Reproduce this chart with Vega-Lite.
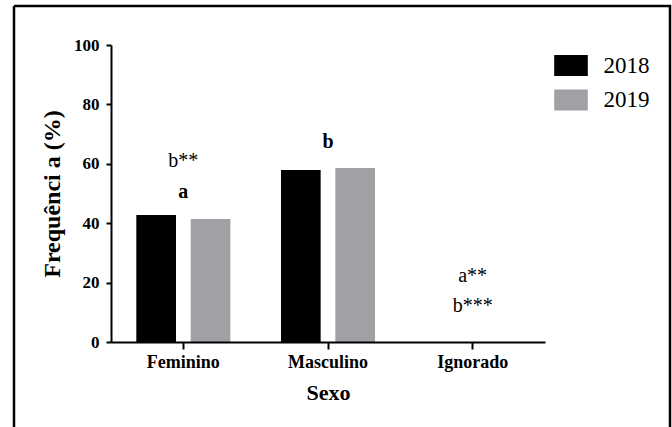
{
  "$schema": "https://vega.github.io/schema/vega-lite/v6.json",
  "width": 656,
  "height": 421,
  "autosize": {"type": "none"},
  "padding": {"left": 14, "top": 6, "right": 2, "bottom": 0},
  "config": {
    "font": "Liberation Serif",
    "text": {"font": "Liberation Serif"},
    "legend": {"labelFont": "Liberation Serif"},
    "view": {"stroke": "black", "strokeWidth": 2.5, "strokeDash": [1077, 656, 421, 0]},
    "axis": {
      "grid": false,
      "domainColor": "black",
      "domainWidth": 2,
      "tickColor": "black",
      "tickWidth": 2,
      "labelColor": "black",
      "titleColor": "black",
      "labelFont": "Liberation Serif",
      "titleFont": "Liberation Serif"
    }
  },
  "datasets": {
    "bars": [
      {"Sexo": "Feminino", "Ano": "2018", "Frequencia": 42.8},
      {"Sexo": "Feminino", "Ano": "2019", "Frequencia": 41.4},
      {"Sexo": "Masculino", "Ano": "2018", "Frequencia": 57.9},
      {"Sexo": "Masculino", "Ano": "2019", "Frequencia": 58.6},
      {"Sexo": "Ignorado", "Ano": "2018", "Frequencia": 0},
      {"Sexo": "Ignorado", "Ano": "2019", "Frequencia": 0}
    ],
    "letras": [
      {"Sexo": "Feminino", "valor": 48.5, "texto": "a"},
      {"Sexo": "Masculino", "valor": 65.3, "texto": "b"}
    ],
    "sig": [
      {"Sexo": "Feminino", "valor": 58.9, "texto": "b**"},
      {"Sexo": "Ignorado", "valor": 20.2, "texto": "a**"},
      {"Sexo": "Ignorado", "valor": 10.1, "texto": "b***"}
    ]
  },
  "layer": [
    {
      "data": {"name": "bars"},
      "mark": {"type": "bar"},
      "encoding": {
        "x": {
          "field": "Sexo",
          "type": "nominal",
          "sort": ["Feminino", "Masculino", "Ignorado"],
          "scale": {"range": [97, 531], "paddingInner": 0.35, "paddingOuter": 0.175},
          "axis": {
            "zindex": 1,
            "offset": -85,
            "labelAngle": 0,
            "labelFontSize": 18,
            "labelFontWeight": "bold",
            "tickSize": 7,
            "labelPadding": 4,
            "title": "Sexo",
            "titleFontSize": 22,
            "titleFontWeight": "bold",
            "titlePadding": 11
          }
        },
        "xOffset": {"field": "Ano", "type": "nominal", "scale": {"paddingInner": 0.27, "paddingOuter": 0}},
        "y": {
          "field": "Frequencia",
          "type": "quantitative",
          "scale": {"domain": [0, 100], "range": [336, 39], "nice": false},
          "axis": {
            "zindex": 1,
            "offset": -97,
            "values": [0, 20, 40, 60, 80, 100],
            "labelFontSize": 17,
            "labelFontWeight": "bold",
            "tickSize": 5,
            "labelPadding": 7,
            "title": "Frequênci a (%)",
            "titleFontSize": 24,
            "titleFontWeight": "bold",
            "titlePadding": 9
          }
        },
        "color": {
          "field": "Ano",
          "type": "nominal",
          "scale": {"domain": ["2018", "2019"], "range": ["#000000", "#a1a1a5"]},
          "legend": {
            "title": null,
            "orient": "none",
            "legendX": 545.5,
            "legendY": 48,
            "symbolType": "M-1.6,-1H1.6V1H-1.6Z",
            "symbolSize": 441,
            "symbolStrokeWidth": 0,
            "labelFont": "Liberation Serif",
            "labelFontSize": 23,
            "labelColor": "black",
            "labelOffset": 21,
            "rowPadding": 10.5
          }
        }
      }
    },
    {
      "data": {"name": "letras"},
      "mark": {"type": "text", "font": "Liberation Serif", "fontSize": 20, "fontWeight": "bold", "baseline": "alphabetic", "align": "center", "color": "black"},
      "encoding": {
        "x": {"field": "Sexo", "type": "nominal", "sort": ["Feminino", "Masculino", "Ignorado"]},
        "y": {"field": "valor", "type": "quantitative"},
        "text": {"field": "texto"}
      }
    },
    {
      "data": {"name": "sig"},
      "mark": {"type": "text", "font": "Liberation Serif", "fontSize": 20, "baseline": "alphabetic", "align": "center", "color": "black"},
      "encoding": {
        "x": {"field": "Sexo", "type": "nominal", "sort": ["Feminino", "Masculino", "Ignorado"]},
        "y": {"field": "valor", "type": "quantitative"},
        "text": {"field": "texto"}
      }
    }
  ]
}
